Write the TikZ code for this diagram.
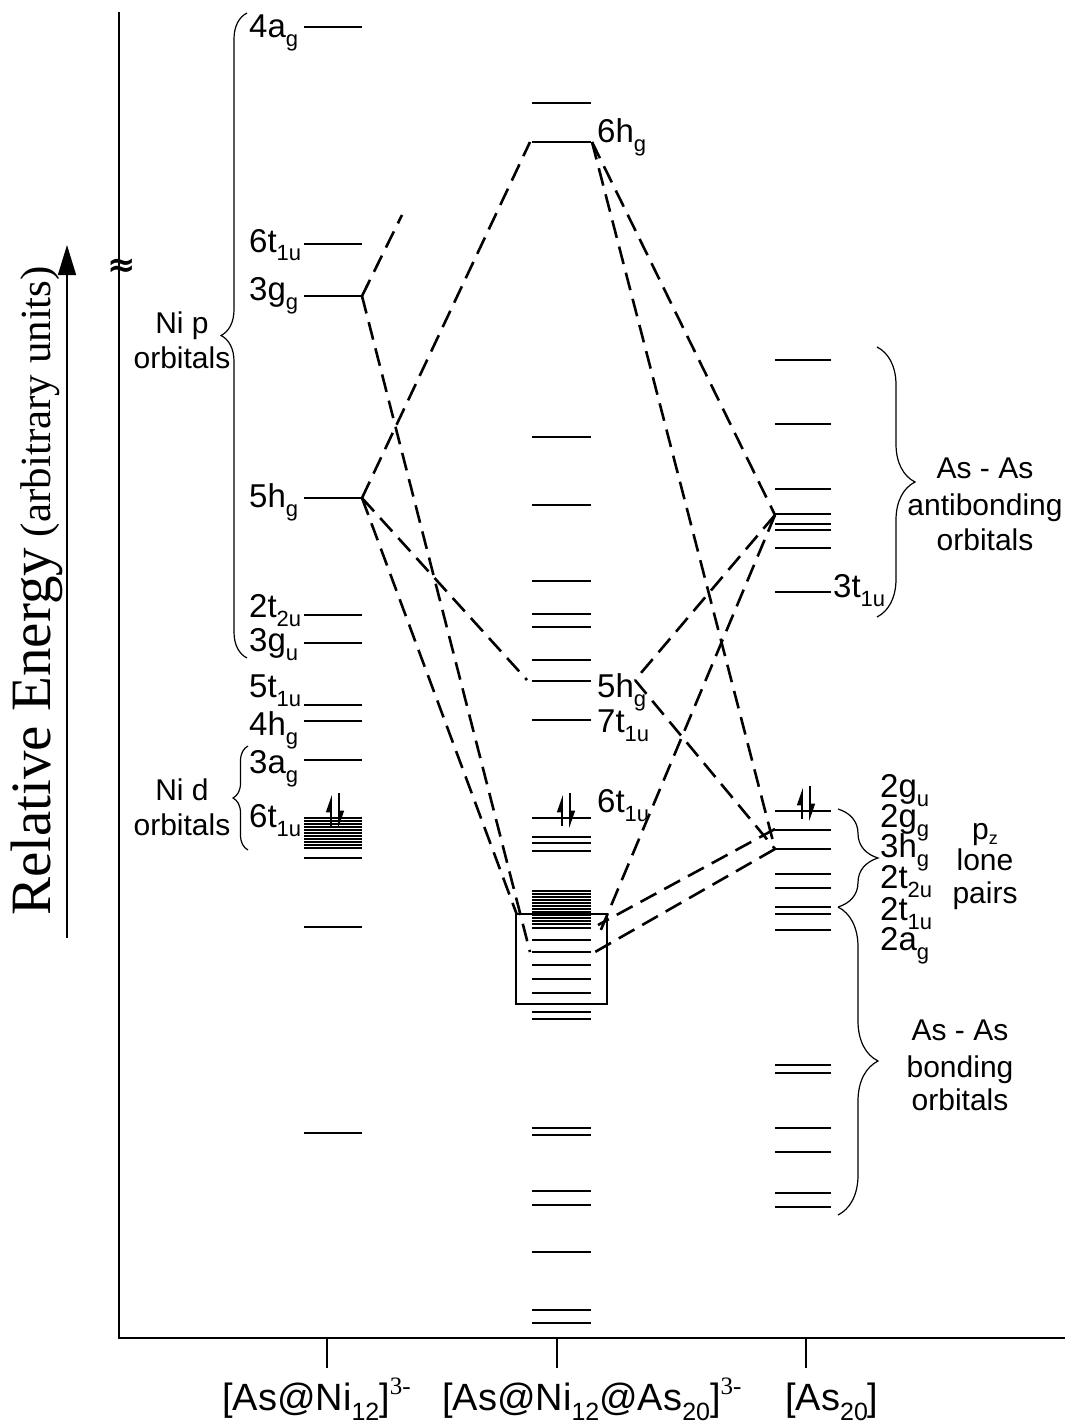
\documentclass[tikz,border=0pt]{standalone}
\usepackage{fontspec}
\setmainfont{Liberation Sans}
\newfontfamily\tms{Liberation Serif}
\newfontfamily\dvs{DejaVu Sans}
\usetikzlibrary{decorations.pathreplacing,arrows.meta}
\newcommand\fs[1]{\fontsize{#1}{#1}\selectfont}
\newcommand\sbx[1]{\raisebox{-9pt}{\fs{22}#1}}
\newcommand\bsb[1]{\raisebox{-10pt}{\fs{25}#1}}
\newcommand\bsp[1]{\raisebox{16pt}{\tms\fs{25}#1}}
\tikzset{
  lev/.style={line width=2pt},
  mo/.style={line width=2.6pt, dash pattern=on 18pt off 9pt},
  lab/.style={anchor=base west, inner sep=0pt, font=\fs{33}},
  grp/.style={anchor=base, inner sep=0pt, font=\fs{30}},
  brc/.style={decorate, decoration={brace, amplitude=#1}, line width=1.2pt},
  ele/.style={line width=1.6pt, -{Triangle[left,length=15pt,width=10pt]}},
}
\newcommand\epair[2]{%
  \draw[ele] (#1-4,#2+8) -- (#1-4,#2-23);
  \draw[ele] (#1+4,#2-25) -- (#1+4,#2+10);
}
\begin{document}
\begin{tikzpicture}[x=1pt,y=-1pt]
\useasboundingbox (0,0) rectangle (1065,1423);

% axes
\coordinate (axtop) at (119,12);
\coordinate (axorg) at (119,1338);
\coordinate (axend) at (1065,1338);
\draw[line width=1.8pt] (axtop) -- (axorg) -- (axend);
\foreach \x/\n in {327/a,557/b,806/c}{
  \coordinate (t\n1) at (\x,1338);
  \coordinate (t\n2) at (\x,1368);
  \draw[line width=1.5pt] (t\n1) -- (t\n2);
}
\node[inner sep=0pt] (brk) at (122,268) {\dvs\bfseries\fs{34}≈};

% energy arrow and label
\coordinate (ea) at (67,938);
\coordinate (eb) at (67,245);
\draw[line width=1.5pt, -{Triangle[length=30pt,width=18pt]}] (ea) -- (eb);
\node[rotate=90, anchor=base west, inner sep=0pt] (elab) at (50,916)
  {\tms{\fs{57}Relative Energy}\hspace{11pt}{\fs{43}(arbitrary units)}};

% bottom labels
\node[anchor=base west, inner sep=0pt] (b1) at (222,1410) {\fs{38}[As@Ni\bsb{12}]\bsp{3-}};
\node[anchor=base west, inner sep=0pt] (b2) at (442,1410) {\fs{38}[As@Ni\bsb{12}@As\bsb{20}]\bsp{3-}};
\node[anchor=base west, inner sep=0pt] (b3) at (785,1410) {\fs{38}[As\bsb{20}]};

% left column levels
\foreach \y in {27,244,296,498,615,643,705,721,760,858,927,1133}
  \draw[lev] (304,\y) -- (362,\y);
\foreach \y in {818,821,...,849}
  \draw[line width=2.3pt] (304,\y) -- (362,\y);
\epair{335}{818}

% middle column levels
\foreach \y in {103,142,437,505,581,614,627,660,681,720,818,837,843,851,
  891,894,897,900,903,906,909,912,915,918,921,924,928,940,952,965,979,993,
  1012,1019,1128,1135,1191,1205,1252,1310,1323}
  \draw[lev] (532,\y) -- (591,\y);
\draw[line width=1.2pt] (516,914) rectangle (607,1004);
\epair{566}{818}

% right column levels
\foreach \y in {360,424,489,514,524,530,548,592,811,830,849,874,888,907,914,930,
  1065,1073,1128,1152,1193,1207}
  \draw[lev] (775,\y) -- (831,\y);
\epair{806}{811}

% left labels
\node[lab] (l4ag) at (249,38) {4a\sbx{g}};
\node[lab] (l6t1u) at (249,252) {6t\sbx{1u}};
\node[lab] (l3gg) at (249,300) {3g\sbx{g}};
\node[lab] (l5hg) at (249,507) {5h\sbx{g}};
\node[lab] (l2t2u) at (249,617) {2t\sbx{2u}};
\node[lab] (l3gu) at (249,651) {3g\sbx{u}};
\node[lab] (l5t1u) at (249,697) {5t\sbx{1u}};
\node[lab] (l4hg) at (249,735) {4h\sbx{g}};
\node[lab] (l3ag) at (249,773) {3a\sbx{g}};
\node[lab] (l6t1ub) at (249,827) {6t\sbx{1u}};

% middle labels
\node[lab] (m6hg) at (597,143) {6h\sbx{g}};
\node[lab] (m5hg) at (597,697) {5h\sbx{g}};
\node[lab] (m7t1u) at (597,732) {7t\sbx{1u}};
\node[lab] (m6t1u) at (597,812) {6t\sbx{1u}};

% right labels
\node[lab] (r3t1u) at (833,597) {3t\sbx{1u}};
\node[lab] (r2gu) at (880,797) {2g\sbx{u}};
\node[lab] (r2gg) at (880,827) {2g\sbx{g}};
\node[lab] (r3hg) at (880,857) {3h\sbx{g}};
\node[lab] (r2t2u) at (880,888) {2t\sbx{2u}};
\node[lab] (r2t1u) at (880,920) {2t\sbx{1u}};
\node[lab] (r2ag) at (880,950) {2a\sbx{g}};

% group labels
\node[grp] (nip1) at (182,333) {Ni p};
\node[grp] (nip2) at (182,368) {orbitals};
\node[grp] (nid1) at (182,800) {Ni d};
\node[grp] (nid2) at (182,835) {orbitals};
\node[grp] (ab1) at (985,478) {As - As};
\node[grp] (ab2) at (985,515) {antibonding};
\node[grp] (ab3) at (985,550) {orbitals};
\node[grp] (lp1) at (985,839) {p\raisebox{-5pt}{\fs{18}z}};
\node[grp] (lp2) at (985,870) {lone};
\node[grp] (lp3) at (985,903) {pairs};
\node[grp] (bo1) at (960,1040) {As - As};
\node[grp] (bo2) at (960,1077) {bonding};
\node[grp] (bo3) at (960,1110) {orbitals};

% braces
\draw[brc=26] (247,658) -- (247,13);
\draw[brc=15] (248,850) -- (248,746);
\draw[brc=38] (877,347) -- (877,617);
\draw[brc=40] (838,809) -- (838,907);
\draw[brc=40] (838,907) -- (838,1215);

% correlation points
\coordinate (L3gg) at (362,296);
\coordinate (Lup) at (402,215);
\coordinate (L5hg) at (362,498);
\coordinate (M6hgL) at (530,142);
\coordinate (M6hgR) at (592,142);
\coordinate (M5hgL) at (527,680);
\coordinate (M5hgX) at (635,680);
\coordinate (Mbox) at (517,915);
\coordinate (Ma) at (530,952);
\coordinate (Mb) at (600,932);
\coordinate (Mc) at (598,925);
\coordinate (Md) at (595,952);
\coordinate (R515) at (775,515);
\coordinate (R829) at (775,829);
\coordinate (R849) at (775,849);

\draw[mo] (L3gg) -- (Lup);
\draw[mo] (L3gg) -- (Ma);
\draw[mo] (L5hg) -- (M6hgL);
\draw[mo] (L5hg) -- (M5hgL);
\draw[mo] (L5hg) -- (Mbox);
\draw[mo] (M6hgR) -- (R515);
\draw[mo] (M6hgR) -- (R849);
\draw[mo] (R515) -- (M5hgX);
\draw[mo] (M5hgX) -- (R849);
\draw[mo] (R515) -- (Mb);
\draw[mo] (R829) -- (Mc);
\draw[mo] (R849) -- (Md);
\end{tikzpicture}
\end{document}
